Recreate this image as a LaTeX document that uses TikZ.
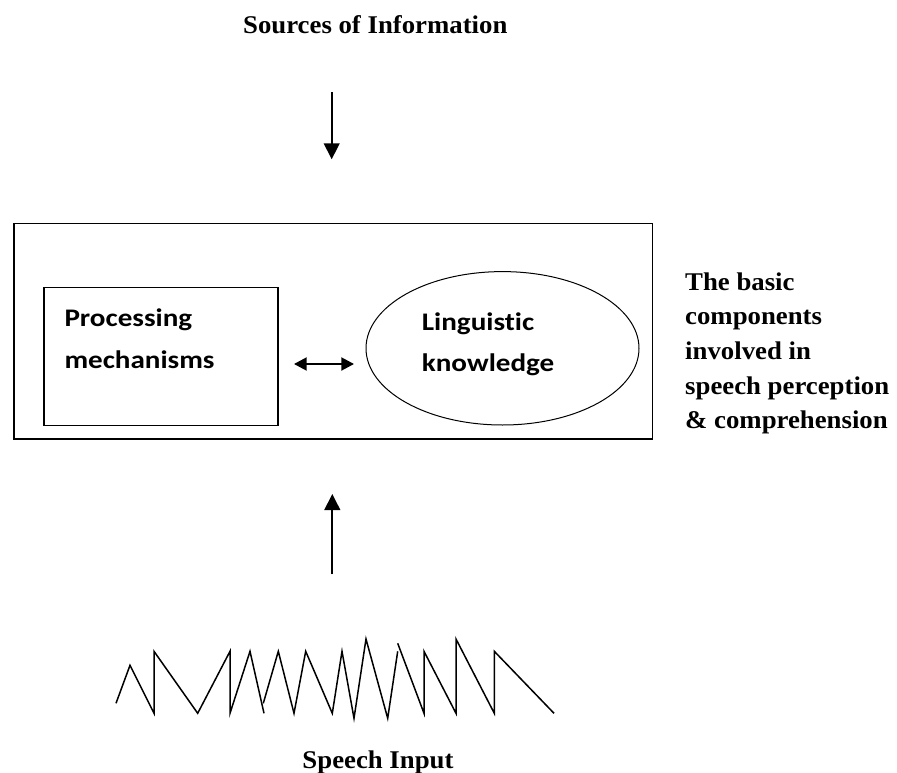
\documentclass[tikz,border=0pt]{standalone}
\usepackage{fontspec}
\usetikzlibrary{arrows.meta,shapes.geometric}
\newfontfamily\tnrfont[FakeStretch=1.05]{Liberation Serif}
\newfontfamily\calfont[FakeStretch=1.15,Ligatures=NoCommon]{Carlito}
\tikzset{
  framebox/.style={draw, line width=1.3pt, inner sep=0pt, rectangle},
  serifbold/.style={font=\tnrfont\bfseries\fontsize{25.5}{34.7}\selectfont, inner sep=0pt},
  calbold/.style={font=\calfont\bfseries\fontsize{25.3}{41.5}\selectfont, inner sep=0pt, align=left},
  bigarrow/.style={line width=2pt, -{Triangle[length=16pt,width=15.7pt]}},
  dblarrow/.style={line width=2pt, {Triangle[length=12.7pt,width=13pt]}-{Triangle[length=12.7pt,width=13pt]}},
  wave/.style={line width=1.5pt, line join=miter}
}
\begin{document}
\begin{tikzpicture}[x=1pt,y=-1pt]
\path[use as bounding box, fill=white] (0,0) rectangle (897,773);
% title
\node[serifbold, anchor=base] (title) at (375.3,33.3) {Sources of Information};
\coordinate (d1) at (331.7,92.3);
\coordinate (d2) at (331.7,159.3);
\draw[bigarrow] (d1) -- (d2);
% outer frame
\node[framebox, minimum width=638.3pt, minimum height=215.7pt] (outer) at (333.15,331.15) {};
% processing box
\node[framebox, minimum width=234pt, minimum height=138pt] (pbox) at (161,356.7) {};
\node[calbold, anchor=base west] (ptext) at (64.3,368) {Processing\\mechanisms};
% ellipse
\node[draw, line width=1pt, ellipse, minimum width=273pt, minimum height=153.4pt, inner sep=0pt] (ling) at (502.5,348.3) {};
\node[calbold, anchor=base west] (ltext) at (421.7,371.7) {Linguistic\\knowledge};
% double arrow
\coordinate (a1) at (294,364);
\coordinate (a2) at (354,364);
\draw[dblarrow] (a1) -- (a2);
% right text
\node[serifbold, anchor=base west, align=left] (side) at (685,428.8) {The basic\\components\\involved in\\speech perception\\\& comprehension};
% up arrow
\coordinate (u1) at (332.3,574.3);
\coordinate (u2) at (332.3,494);
\draw[bigarrow] (u1) -- (u2);
% speech wave
\draw[wave] (116,703.3) -- (130,665.3) -- (154,713.3) -- (154,651.3) -- (197.7,713.3) -- (230,651.3) -- (230,713.3) -- (250,651.3) -- (264,713.3);
\draw[wave] (263.3,703.3) -- (278.3,651.3) -- (294,713.3) -- (305.7,651.3) -- (332.3,713.3) -- (342,651.3) -- (354,718.3) -- (366,639) -- (387.7,718.3) -- (397.7,651.3);
\draw[wave] (397.7,643.3) -- (424,713.3) -- (424,651.3) -- (456,713.3) -- (456,639) -- (494.3,713.3) -- (494.3,651.3) -- (554,713.3);
\node[serifbold, anchor=base] (speech) at (378,768.3) {Speech Input};
\end{tikzpicture}
\end{document}
